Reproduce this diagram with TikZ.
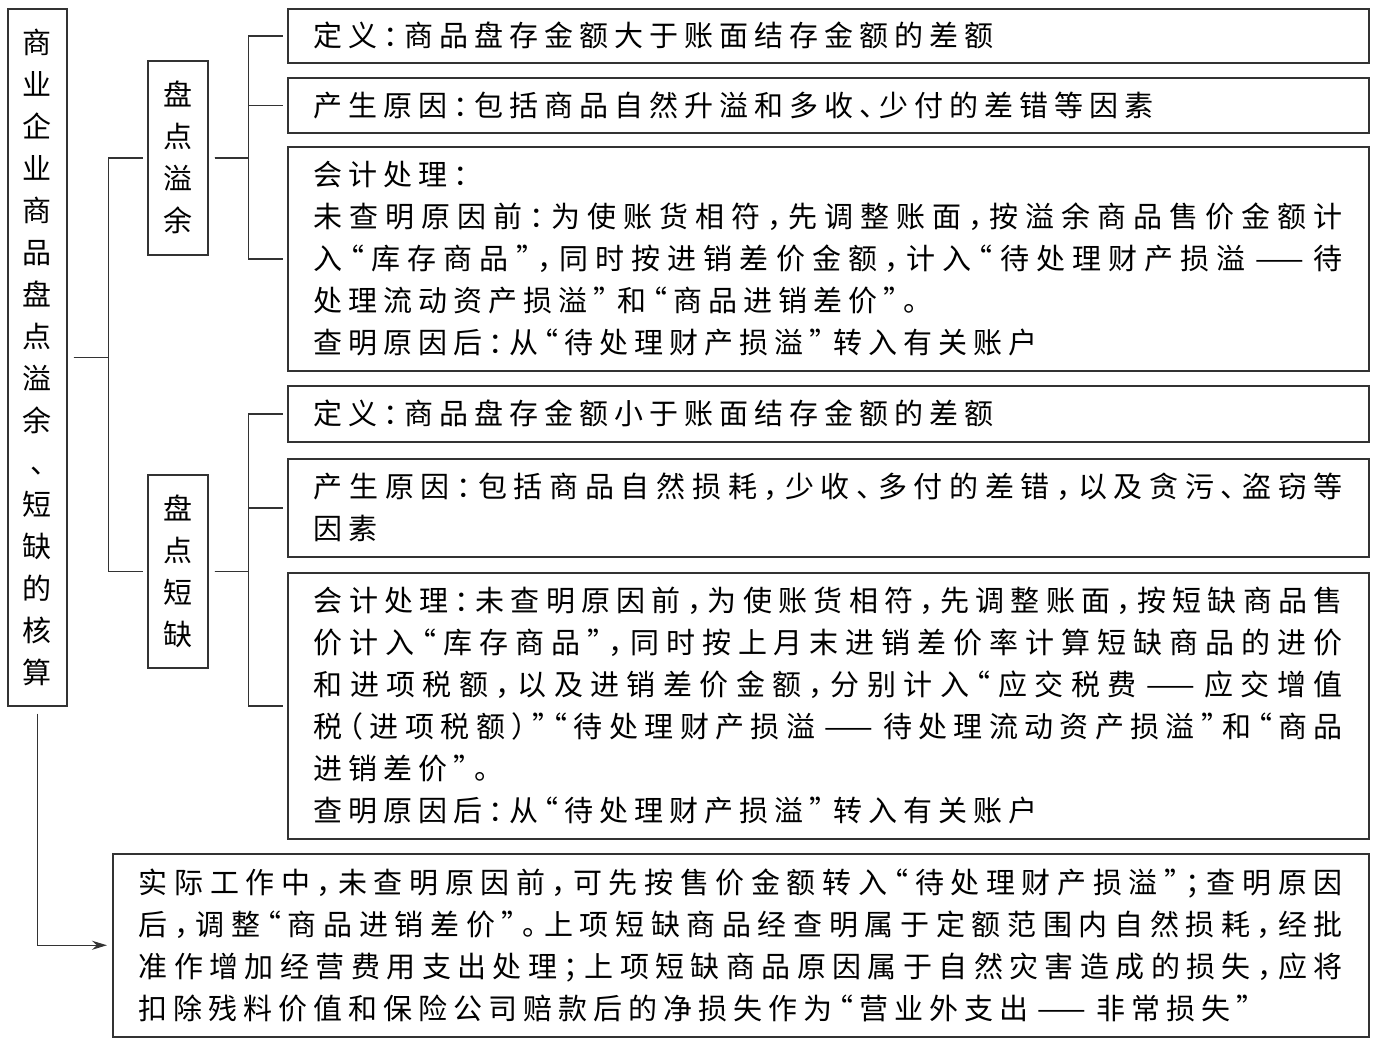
\documentclass[tikz,border=0pt]{standalone}
\usepackage{fontspec}
\newfontfamily\cjk{Noto Sans CJK SC}[RawFeature=+halt]
\usetikzlibrary{positioning, arrows, arrows.meta}
% character classes: 1 = ideographs, 2 = opening marks, 3 = closing marks
\newcount\cjkc
\cjkc="4E00
\loop \XeTeXcharclass\cjkc=1 \advance\cjkc by 1 \ifnum\cjkc<"A000 \repeat
\XeTeXcharclass"201C=2 \XeTeXcharclass"FF08=2
\XeTeXcharclass"201D=3 \XeTeXcharclass"FF09=3 \XeTeXcharclass"FF0C=3
\XeTeXcharclass"3002=3 \XeTeXcharclass"3001=3 \XeTeXcharclass"FF1A=3
\XeTeXcharclass"FF1B=3
% spacing between Chinese characters, stretchable for full lines
\newcommand\cjkgap{\hskip 6pt plus 6pt minus 5pt\relax}
\XeTeXinterchartokenstate=1
\XeTeXinterchartoks 1 1 = {\cjkgap}
\XeTeXinterchartoks 1 2 = {\cjkgap}
\XeTeXinterchartoks 1 3 = {\cjkgap}
\XeTeXinterchartoks 2 1 = {\cjkgap}
\XeTeXinterchartoks 2 2 = {\cjkgap}
\XeTeXinterchartoks 2 3 = {\cjkgap}
\XeTeXinterchartoks 3 1 = {\cjkgap}
\XeTeXinterchartoks 3 2 = {\cjkgap}
\XeTeXinterchartoks 3 3 = {\cjkgap}
\newcommand\fl[1]{\leavevmode\hbox to\hsize{#1}}
\tikzstyle{box} = [draw=black!80, line width=1.5pt, inner sep=0pt, font=\fontsize{29}{42}\selectfont\cjk]
\tikzstyle{item} = [box, anchor=north west, minimum width=1081pt, text width=1029pt, inner xsep=26pt, align=left]
\tikzstyle{head} = [box, anchor=north west, minimum width=60pt, text width=40pt, align=center]
\tikzstyle{link} = [draw=black!80, line width=1.5pt, shorten <=6pt, shorten >=4pt]
\tikzstyle{arrow} = [link, ->, >={Stealth[length=15pt,width=9pt]}, shorten <=7pt, shorten >=5pt]

\begin{document}
\begin{tikzpicture}[x=1pt, y=-1pt]
\useasboundingbox (0,0) rectangle (1374,1042);

\node (title)    [head, minimum width=59pt, minimum height=697pt] at (7,8) {商\\业\\企\\业\\商\\品\\盘\\点\\溢\\余\\、\\短\\缺\\的\\核\\算};
\node (surplus)  [head, minimum height=194pt] at (147,60) {盘\\点\\溢\\余};
\node (shortage) [head, minimum height=193pt] at (147,474) {盘\\点\\短\\缺};

% 盘点溢余
\node (sdef)   [item, minimum height=54pt] at (287,8) {定义：商品盘存金额大于账面结存金额的差额};
\node (scause) [item, minimum height=55pt] at (287,77) {产生原因：包括商品自然升溢和多收、少付的差错等因素};
\node (sacct)  [item, minimum height=224pt] at (287,146) {会计处理：\\
\fl{未查明原因前：为使账货相符，先调整账面，按溢余商品售价金额计}\\
\fl{入“库存商品”，同时按进销差价金额，计入“待处理财产损溢 —— 待}\\
处理流动资产损溢” 和“商品进销差价”。\\
查明原因后：从“待处理财产损溢” 转入有关账户};

% 盘点短缺
\node (hdef)   [item, minimum height=56pt] at (287,385) {定义：商品盘存金额小于账面结存金额的差额};
\node (hcause) [item, minimum height=98pt] at (287,458) {\fl{产生原因：包括商品自然损耗，少收、多付的差错，以及贪污、盗窃等}\\因素};
\node (hacct)  [item, minimum height=266pt] at (287,572) {\fl{会计处理：未查明原因前，为使账货相符，先调整账面，按短缺商品售}\\
\fl{价计入“库存商品”，同时按上月末进销差价率计算短缺商品的进价}\\
\fl{和进项税额，以及进销差价金额，分别计入“应交税费 —— 应交增值}\\
\fl{税（进项税额）”“待处理财产损溢 —— 待处理流动资产损溢”和“商品}\\
进销差价”。\\
查明原因后：从“待处理财产损溢” 转入有关账户};

\node (practice) [item, minimum width=1256pt, text width=1204pt, minimum height=183pt] at (112,853) {\fl{实际工作中，未查明原因前，可先按售价金额转入“待处理财产损溢”；查明原因}\\
\fl{后，调整“商品进销差价”。上项短缺商品经查明属于定额范围内自然损耗，经批}\\
\fl{准作增加经营费用支出处理；上项短缺商品原因属于自然灾害造成的损失，应将}\\
扣除残料价值和保险公司赔款后的净损失作为“营业外支出 —— 非常损失”};

\draw[link] (title.east) -- ++(41,0) |- (surplus.west);
\draw[link] (title.east) -- ++(41,0) |- (shortage.west);

\draw[link] (surplus.east) -- ++(40,0) |- (sdef.west);
\draw[link] (surplus.east) -- ++(40,0) |- (scause.west);
\draw[link] (surplus.east) -- ++(40,0) |- (sacct.west);

\draw[link] (shortage.east) -- ++(40,0) |- (hdef.west);
\draw[link] (shortage.east) -- ++(40,0) |- (hcause.west);
\draw[link] (shortage.east) -- ++(40,0) |- (hacct.west);

\draw[arrow] (title.south) |- (practice.west);

\end{tikzpicture}
\end{document}
